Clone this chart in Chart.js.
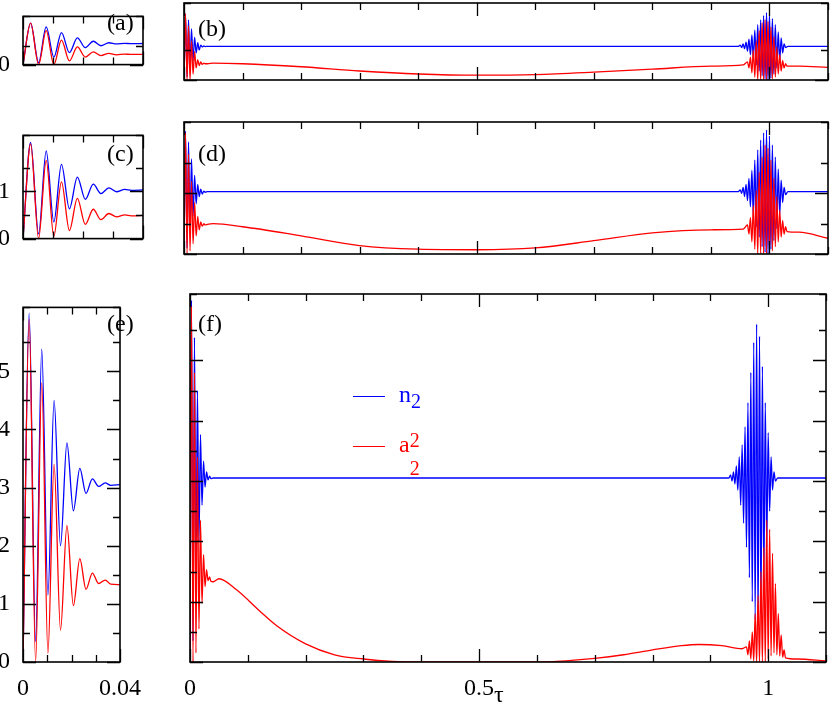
<!DOCTYPE html>
<html><head><meta charset="utf-8">
<script src="https://cdn.jsdelivr.net/npm/chart.js@4"></script>
<style>
body{margin:0;background:#fff;width:830px;height:717px;position:relative;overflow:hidden;font-family:"Liberation Serif",serif}
canvas{position:absolute}
.lab{position:absolute;font-size:24px;color:#000;line-height:1}
</style></head><body>
<script>
// ---- data ----
const leftTau=[0,0.00254,0.0052,0.00773,0.01028,0.01282,0.01547,0.01812,0.02077,0.02343,0.02597,0.02862,0.03116,0.03392,0.03613,0.04];
const aBlue=[0,1.1,0.05,1.0,0.2,0.85,0.32,0.71,0.45,0.62,0.5,0.58,0.55,0.565,0.555,0.56];
const aRed=[0,1.1,0.0,0.9,0.0,0.65,0.1,0.47,0.2,0.34,0.24,0.3,0.26,0.28,0.27,0.27];
const cBlue=[0,2.03,0.1,1.85,0.35,1.57,0.63,1.3,0.83,1.15,0.95,1.07,0.99,1.04,1.02,1.03];
const cRed=[0,2.0,0.0,1.65,0.05,1.2,0.17,0.85,0.3,0.62,0.4,0.53,0.46,0.5,0.48,0.49];
const eBlue=[0,6.0,0.35,5.38,1.15,4.5,2.0,3.77,2.6,3.33,2.9,3.15,3.02,3.08,3.04,3.05];
const eRed=[0,5.9,0.0,4.8,0.15,3.4,0.55,2.35,0.97,1.78,1.25,1.53,1.35,1.41,1.34,1.33];

const blueBurstTauF=[0.935,0.9375,0.94,0.9425,0.945,0.9475,0.95,0.9525,0.955,0.9575,0.96,0.9625,0.965,0.9675,0.97,0.9725,0.975,0.9775,0.98,0.9825,0.985,0.9875,0.99,0.9925,0.995,0.9975,1.0,1.0025,1.005,1.0075,1.01,1.0125];
const blueBurstTauBD=[0.95,0.9525,0.955,0.9575,0.96,0.9625,0.965,0.9675,0.97,0.9725,0.975,0.9775,0.98,0.9825,0.985,0.9875,0.99,0.9925,0.995,0.9975,1.0,1.0025,1.005,1.0075,1.01,1.0125,1.015,1.0175,1.02,1.0225,1.025,1.0275];
const bBlueBurst=[0.58,0.54,0.6,0.52,0.63,0.48,0.68,0.42,0.75,0.35,0.83,0.25,0.92,0.15,1.0,0.07,1.07,0.02,1.12,0.0,1.1,0.03,1.02,0.1,0.92,0.2,0.8,0.32,0.7,0.45,0.6,0.54];
const dBlueBurst=[1.06,1.0,1.1,0.95,1.15,0.88,1.25,0.78,1.38,0.62,1.55,0.45,1.72,0.28,1.88,0.12,2.0,0.03,2.05,0.0,1.95,0.08,1.8,0.22,1.6,0.42,1.4,0.65,1.22,0.85,1.1,0.98];
const fBlueBurst=[3.1,3.0,3.15,2.95,3.25,2.85,3.4,2.6,3.6,2.3,3.9,1.9,4.3,1.4,4.8,1.0,5.3,0.7,5.6,0.6,5.4,0.8,4.9,1.3,4.3,1.9,3.8,2.5,3.4,2.85,3.15,3.0];

const redBurstTau=[0.9625,0.965,0.9675,0.97,0.9725,0.975,0.9775,0.98,0.9825,0.985,0.9875,0.99,0.9925,0.995,0.9975,1.0,1.0025,1.005,1.0075,1.01,1.0125,1.015,1.0175,1.02,1.0225,1.025,1.0275,1.03];
const bRedBurst=[0.3,0.2,0.38,0.12,0.5,0.05,0.65,0.0,0.82,0.0,0.95,0.0,1.0,0.0,0.97,0.0,0.88,0.02,0.72,0.05,0.55,0.1,0.42,0.15,0.32,0.2,0.27,0.23];
const dRedBurst=[0.48,0.33,0.6,0.2,0.8,0.08,1.05,0.0,1.35,0.0,1.6,0.0,1.8,0.0,1.75,0.0,1.55,0.05,1.25,0.12,0.95,0.2,0.72,0.28,0.55,0.33,0.45,0.37];
const fRedBurst=[0.25,0.12,0.35,0.05,0.5,0.02,0.8,0.0,1.1,0.0,1.5,0.0,1.9,0.0,2.35,0.05,2.2,0.1,1.8,0.15,1.3,0.12,0.8,0.1,0.45,0.08,0.2,0.07];

const slowTauB=[0.05,0.1,0.2,0.3,0.4,0.5,0.6,0.7,0.8,0.9,0.955];
const bRedSlow=[0.28,0.27,0.22,0.15,0.1,0.08,0.09,0.13,0.18,0.23,0.25];
const dRedSlow=[0.5,0.45,0.3,0.14,0.08,0.07,0.1,0.22,0.35,0.4,0.41];
const slowTauF=[0.05,0.08,0.12,0.15,0.2,0.25,0.3,0.35,0.4,0.6,0.65,0.7,0.75,0.8,0.85,0.88,0.92,0.955];
const fRedSlow=[1.38,1.2,0.85,0.6,0.3,0.12,0.05,0.01,0,0,0.02,0.06,0.12,0.2,0.27,0.29,0.27,0.22];
const tailTau=[1.05,1.1];
const bRedTail=[0.23,0.21], dRedTail=[0.36,0.26], fRedTail=[0.05,0.02];
const blueLevel={b:0.56,d:1.03,f:3.05};

// ---- helpers ----
const pts=(xs,ys)=>xs.map((x,i)=>({x,y:ys[i]}));
function blueRight(lv,init,bt,bv){return [...pts(leftTau,init),{x:0.045,y:lv},{x:bt[0]-0.003,y:lv},...pts(bt,bv),{x:bt[bt.length-1]+0.004,y:lv},{x:1.1,y:lv}];}
function redRight(init,st,sv,bv,tv){return [...pts(leftTau,init),...pts(st,sv),...pts(redBurstTau,bv),...pts(tailTau,tv)];}

const near=(v,s)=>Math.abs(v-Math.round(v/s)*s)<1e-6;
const majMap=new Map();
const tickPlugin={id:'inticks',afterDraw(ch){
  const m=majMap.get(ch.canvas); if(!m) return;
  const ctx=ch.ctx,a=ch.chartArea,xs=ch.scales.x,ys=ch.scales.y;
  ctx.save();ctx.strokeStyle='#000';ctx.lineWidth=1.3;ctx.beginPath();
  xs.ticks.forEach(t=>{const p=Math.round(xs.getPixelForValue(t.value))+0.5;const L=near(t.value,m)?13:7;
    ctx.moveTo(p,a.bottom);ctx.lineTo(p,a.bottom-L);ctx.moveTo(p,a.top);ctx.lineTo(p,a.top+L);});
  ys.ticks.forEach(t=>{const p=Math.round(ys.getPixelForValue(t.value))+0.5;const L=near(t.value,1)?13:7;
    ctx.moveTo(a.left,p);ctx.lineTo(a.left+L,p);ctx.moveTo(a.right,p);ctx.lineTo(a.right-L,p);});
  ctx.stroke();ctx.lineWidth=1.6;ctx.strokeRect(a.left,a.top,a.right-a.left,a.bottom-a.top);ctx.restore();}};
Chart.register(tickPlugin);

function panel(rect,opts){
  const yw=opts.left?rect.l:4, xh=opts.bottom?34:4;
  const c=document.createElement('canvas');
  const W=rect.r-rect.l+yw+2,H=rect.b-rect.t+6+xh;
  c.style.left=(rect.l-yw)+'px';c.style.top=(rect.t-6)+'px';c.style.width=W+'px';c.style.height=H+'px';
  c.width=W;c.height=H;document.body.appendChild(c);
  majMap.set(c,opts.xMaj);
  const font={family:'"Liberation Serif", serif',size:24};
  const xLab=opts.xLab;
  new Chart(c,{type:'line',data:{datasets:[
    {data:opts.red,borderColor:'#ff0000',borderWidth:1.3,pointRadius:0,cubicInterpolationMode:'monotone',fill:false},
    {data:opts.blue,borderColor:'#0000ff',borderWidth:1.3,pointRadius:0,cubicInterpolationMode:'monotone',fill:false}]},
   options:{responsive:false,animation:false,devicePixelRatio:1,parsing:false,
    layout:{padding:{top:6,right:2,left:0,bottom:0}},
    plugins:{legend:{display:false},tooltip:{enabled:false}},
    scales:{
     x:{type:'linear',min:0,max:opts.xmax,grid:{display:false},border:{display:false},
        afterFit:s=>{s.height=xh;},
        ticks:{display:!!opts.bottom,stepSize:opts.xstep,autoSkip:false,maxRotation:0,padding:4,color:'#000',font,callback:v=>xLab(v)}},
     y:{type:'linear',min:0,max:opts.ymax,grid:{display:false},border:{display:false},
        afterFit:s=>{s.width=yw;},
        ticks:{display:!!opts.left,stepSize:0.5,autoSkip:false,padding:5,color:'#000',font,callback:v=>near(v,1)?String(Math.round(v)):''}}
    }}});
}
const L={l:23,r:143},R={l:184,r:828};
const rows=[{t:3,b:80,ymax:1.28},{t:122,b:254,ymax:2.18},{t:294,b:662,ymax:6.1}];
const leftX=v=>Math.abs(v)<1e-9?'0':(Math.abs(v-0.04)<1e-9?'0.04':'');
const rightX=v=>Math.abs(v)<1e-6?'0':(Math.abs(v-0.5)<1e-6?'0.5':(Math.abs(v-1)<1e-6?'1':''));
const leftSets=[[aBlue,aRed],[cBlue,cRed],[eBlue,eRed]];
leftSets.forEach((s,i)=>panel({l:L.l,r:L.r,t:rows[i].t,b:rows[i].b},{left:true,bottom:i==2,xmax:0.04,xstep:0.01,ymax:rows[i].ymax,xLab:leftX,xMaj:0.04,blue:pts(leftTau,s[0]),red:pts(leftTau,s[1])}));
const rightSets=[
 {blue:blueRight(blueLevel.b,aBlue,blueBurstTauBD,bBlueBurst),red:redRight(aRed,slowTauB,bRedSlow,bRedBurst,bRedTail)},
 {blue:blueRight(blueLevel.d,cBlue,blueBurstTauBD,dBlueBurst),red:redRight(cRed,slowTauB,dRedSlow,dRedBurst,dRedTail)},
 {blue:blueRight(blueLevel.f,eBlue,blueBurstTauF,fBlueBurst),red:redRight(eRed,slowTauF,fRedSlow,fRedBurst,fRedTail)}];
rightSets.forEach((s,i)=>panel({l:R.l,r:R.r,t:rows[i].t,b:rows[i].b},{left:false,bottom:i==2,xmax:1.1,xstep:0.1,ymax:rows[i].ymax,xLab:rightX,xMaj:0.5,blue:s.blue,red:s.red}));

// ---- text labels ----
function lab(txt,x,y,extra){const d=document.createElement('div');d.className='lab';d.innerHTML=txt;d.style.left=x+'px';d.style.top=y+'px';if(extra)Object.assign(d.style,extra);document.body.appendChild(d);}
lab('(a)',107,10);lab('(b)',198,16);
lab('(c)',107,141);lab('(d)',198,141);
lab('(e)',107,311);lab('(f)',198,311);
lab('τ',494,682,{fontSize:32});
lab('<span style="display:inline-block;width:32px;height:0;border-top:1.3px solid #0000ff;vertical-align:middle;margin-right:14px"></span>n<sub style="font-size:20px">2</sub>',353,382,{color:'#0000ff',fontSize:28});
lab('<span style="display:inline-block;width:32px;height:0;border-top:1.3px solid #ff0000;vertical-align:middle;margin-right:14px"></span>a<span style="display:inline-block;position:relative;width:14px"><span style="position:absolute;left:0;top:-22px;font-size:20px">2</span><span style="position:absolute;left:0;top:6px;font-size:20px">2</span></span>',353,432,{color:'#ff0000',fontSize:28});
</script>
</body></html>
